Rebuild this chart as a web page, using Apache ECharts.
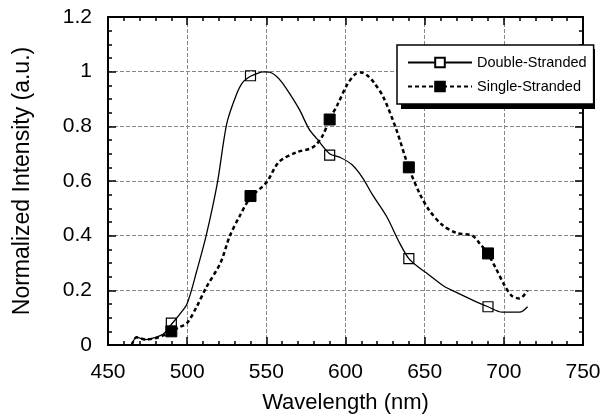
<!DOCTYPE html>
<html>
<head>
<meta charset="utf-8">
<script src="https://cdn.jsdelivr.net/npm/echarts@6/dist/echarts.min.js"></script>
<style>html,body{margin:0;padding:0;background:#fff}#c{width:608px;height:419px}</style>
</head>
<body>
<div id="c"></div>
<script>
// Data (wavelength nm, normalized intensity)
const doubleCurve = [[465,0.0],[468,0.028],[474,0.02],[480,0.028],[485,0.04],[490,0.075],[495,0.11],[500,0.152],[506,0.27],[512,0.40],[519,0.59],[525,0.81],[531,0.915],[535,0.96],[540,0.983],[544,0.993],[548,0.999],[552,0.998],[556,0.985],[560,0.96],[565,0.917],[571,0.86],[577,0.79],[582,0.754],[590,0.7],[597,0.685],[604,0.66],[611,0.61],[617,0.55],[626,0.47],[634,0.375],[640,0.316],[646,0.285],[652,0.26],[662,0.216],[672,0.187],[683,0.157],[690,0.14],[699,0.12],[705,0.12],[710,0.12],[715,0.14]];
const doubleMarkers = [[490,0.08],[540,0.985],[590,0.695],[640,0.316],[690,0.14]];
const singleCurve = [[465,0.0],[468,0.028],[474,0.02],[480,0.025],[485,0.035],[490,0.05],[495,0.065],[500,0.081],[506,0.14],[512,0.21],[521,0.30],[527,0.40],[533,0.47],[540,0.54],[550,0.594],[558,0.67],[569,0.705],[579,0.722],[585,0.76],[590,0.825],[595,0.88],[601,0.952],[606,0.99],[610,0.997],[614,0.985],[618,0.96],[624,0.906],[632,0.79],[640,0.648],[647,0.552],[653,0.492],[661,0.44],[670,0.41],[680,0.40],[685,0.37],[690,0.333],[695,0.28],[700,0.223],[705,0.18],[710,0.17],[715,0.20]];
const singleMarkers = [[490,0.05],[540,0.545],[590,0.825],[640,0.65],[690,0.335]];
const seriesNames = ['Double-Stranded','Single-Stranded'];
const xTitle = 'Wavelength (nm)';
const yTitle = 'Normalized Intensity (a.u.)';

const font = 'Liberation Sans, Arial, Helvetica, sans-serif';
const chart = echarts.init(document.getElementById('c'), null, {renderer:'canvas'});
const axisBase = {
  axisLine:{show:true,onZero:false,lineStyle:{color:'#000',width:2}},
  axisTick:{show:true,inside:true,length:8,lineStyle:{color:'#000',width:1.5}},
  minorTick:{show:true,splitNumber:5,length:4,lineStyle:{color:'#000',width:1.5}}
};
const yMinor = {minorTick:{show:true,splitNumber:4,length:4,lineStyle:{color:'#000',width:1.5}}};
chart.setOption({
  animation:false,
  backgroundColor:'#fff',
  grid:{left:108,right:25,top:17,bottom:63,containLabel:false},
  graphic:[{type:'rect',left:401,top:49,shape:{width:194,height:60},style:{fill:'#000'},z:1}],
  legend:{
    data:seriesNames,
    orient:'vertical',
    left:397,top:45,
    width:180,
    padding:[9,7,9,10],
    itemGap:7,
    itemWidth:64,itemHeight:12,
    itemTextGap:5,
    backgroundColor:'#fff',
    borderColor:'#000',borderWidth:1.5,borderRadius:0,
    z:5,
    textStyle:{fontFamily:font,fontSize:14.5,color:'#000',lineHeight:17}
  },
  xAxis:[
    Object.assign({type:'value',min:450,max:750,interval:50,position:'bottom',
      name:xTitle,nameLocation:'middle',nameGap:47,
      nameTextStyle:{fontFamily:font,fontSize:22,color:'#000'},
      axisLabel:{fontFamily:font,fontSize:21,color:'#000',margin:17},
      splitLine:{show:true,lineStyle:{color:'#888',width:1,type:[4,2]}}
    },axisBase),
    Object.assign({type:'value',min:450,max:750,interval:50,position:'top',
      axisLabel:{show:false},splitLine:{show:false}},axisBase)
  ],
  yAxis:[
    Object.assign({type:'value',min:0,max:1.2,interval:0.2,position:'left',
      name:yTitle,nameLocation:'middle',nameGap:74,nameRotate:90,
      nameTextStyle:{fontFamily:font,fontSize:23,color:'#000'},
      axisLabel:{fontFamily:font,fontSize:21,color:'#000',margin:16},
      splitLine:{show:true,lineStyle:{color:'#888',width:1,type:[4,2]}}
    },axisBase,yMinor),
    Object.assign({type:'value',min:0,max:1.2,interval:0.2,position:'right',
      axisLabel:{show:false},splitLine:{show:false}},axisBase,yMinor)
  ],
  series:[
    {name:seriesNames[0],type:'line',data:doubleCurve,smooth:0.3,showSymbol:false,symbol:'rect',symbolSize:10,
      itemStyle:{color:'#fff',borderColor:'#000',borderWidth:1.2},
      lineStyle:{color:'#000',width:1.3,type:'solid'},z:3},
    {name:seriesNames[1],type:'line',data:singleCurve,smooth:0.3,showSymbol:false,symbol:'rect',symbolSize:11,
      itemStyle:{color:'#000',borderColor:'#000',borderWidth:1},
      lineStyle:{color:'#000',width:2.5,type:[4,3]},z:3},
    {name:seriesNames[0],type:'scatter',data:doubleMarkers,symbol:'rect',symbolSize:10,
      itemStyle:{color:'rgba(255,255,255,0)',borderColor:'#000',borderWidth:1.2,opacity:1},z:4},
    {name:seriesNames[1],type:'scatter',data:singleMarkers,symbol:'rect',symbolSize:11,
      itemStyle:{color:'#000',borderColor:'#000',borderWidth:1,opacity:1},z:4}
  ]
});
</script>
</body>
</html>
